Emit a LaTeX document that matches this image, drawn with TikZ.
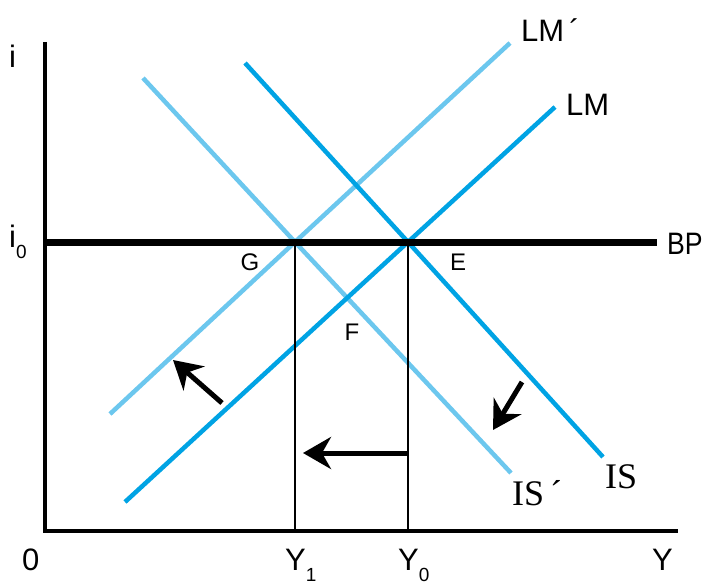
\documentclass[tikz,border=0pt]{standalone}
\usepackage{fontspec}
\setmainfont{Liberation Sans}
\newfontfamily\serifis{Liberation Serif}
\usetikzlibrary{arrows.meta}
\definecolor{lmblue}{RGB}{0,163,228}
\definecolor{paleblue}{RGB}{108,199,238}
\newcommand{\sub}[1]{\raisebox{-11pt}{\fontsize{19}{19}\selectfont #1}}

\begin{document}
\begin{tikzpicture}[x=1pt, y=-1pt, font=\fontsize{31}{33}\selectfont,
  ax/.style={line width=4pt},
  dk/.style={line width=4.5pt, draw=lmblue},
  lt/.style={line width=4.5pt, draw=paleblue},
  mv/.style={line width=5pt, -{Stealth[length=28pt, width=32pt, inset=9pt]}},
  lab/.style={inner sep=0pt, anchor=base west},
  pt/.style={inner sep=0pt, font=\fontsize{24}{26}\selectfont}]
\useasboundingbox (0,0) rectangle (707,586);
% axes and equilibrium points
\coordinate (top) at (45,42); \coordinate (O) at (45,531); \coordinate (xend) at (678,531);
\coordinate (bp0) at (45,242); \coordinate (bp1) at (657,242);
\coordinate (G) at (295,242); \coordinate (E) at (408,242);
\coordinate (G1) at (295,531); \coordinate (E1) at (408,531);
% curve ends
\coordinate (lm0) at (125,502); \coordinate (lm1) at (555,107);
\coordinate (lmp0) at (110,414); \coordinate (lmp1) at (510,43);
\coordinate (is0) at (245,63); \coordinate (is1) at (603,457);
\coordinate (isp0) at (143,78); \coordinate (isp1) at (511,473);
\draw[lt] (lmp0) -- (G) -- (lmp1);
\draw[lt] (isp0) -- (G) -- (isp1);
\draw[dk] (lm0) -- (E) -- (lm1);
\draw[dk] (is0) -- (E) -- (is1);
\draw[ax] (top) -- (O) -- (xend);
\draw[line width=7pt] (bp0) -- (bp1);
\draw[line width=1.8pt] (G) -- (G1); \draw[line width=1.8pt] (E) -- (E1);
% shifts
\coordinate (a0) at (222,403); \coordinate (a1) at (173,360);
\coordinate (b0) at (522,382); \coordinate (b1) at (493,430);
\coordinate (c0) at (408,453); \coordinate (c1) at (303,453);
\draw[mv] (a0) -- (a1); \draw[mv] (b0) -- (b1); \draw[mv] (c0) -- (c1);
% labels
\node[lab] (lLMp) at (521,42) {LM\,´};
\node[lab] (lLM) at (566,115) {LM};
\node[lab] (lBP) at (667,254) {\scalebox{0.86}[1]{BP}};
\node[lab, font=\serifis\fontsize{36}{38}\selectfont] (lIS) at (605,488) {IS};
\node[lab, font=\serifis\fontsize{36}{38}\selectfont] (lISp) at (512,505) {IS\,´};
\node[pt] (lG) at (250,262) {G};
\node[pt] (lE) at (458,262) {E};
\node[pt] (lF) at (352,332) {F};
\node[lab] (li) at (9,67) {i};
\node[lab] (li0) at (9,247) {i\sub{0}};
\node[lab] (lO) at (22,570) {0};
\node[lab] (lY1) at (285,570) {Y\sub{1}};
\node[lab] (lY0) at (398,570) {Y\sub{0}};
\node[lab] (lY) at (652,570) {Y};
\end{tikzpicture}
\end{document}
